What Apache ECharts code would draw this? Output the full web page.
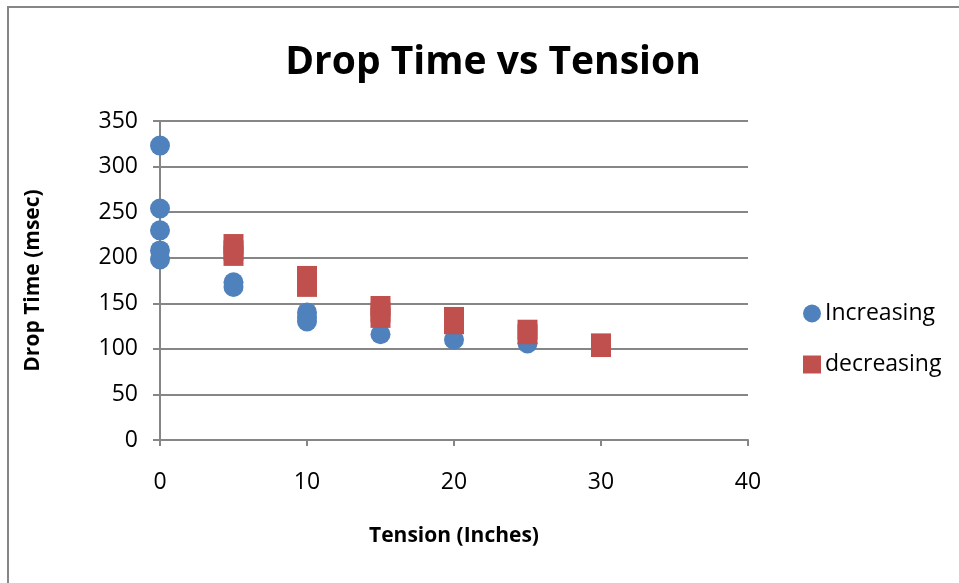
<!DOCTYPE html>
<html>
<head>
<meta charset="utf-8">
<script src="https://cdn.jsdelivr.net/npm/echarts@6/dist/echarts.min.js"></script>
<style>
  html, body { margin: 0; padding: 0; background: #ffffff; }
  #chart { width: 959px; height: 583px; }
</style>
</head>
<body>
<div id="chart"></div>
<script>
// Drop time measurements (msec) at each tension setting (inches)
const increasingTension = [0, 0, 0, 0, 0, 5, 5, 10, 10, 10, 15, 20, 25, 30];
const increasingTime    = [323, 254, 230, 208, 198, 173, 168, 140, 135, 130, 116, 110, 106, 103];

const decreasingTension = [5, 5, 5, 10, 10, 10, 15, 15, 15, 20, 20, 25, 25, 30, 30];
const decreasingTime    = [215, 208, 202, 180, 175, 168, 147, 140, 134, 135, 127, 121, 116, 106, 102];

const xTicks = { min: 0, max: 40, step: 10 };
const yTicks = { min: 0, max: 350, step: 50 };

const pairs = (xs, ys) => xs.map((x, i) => [x, ys[i]]);

const FONT = '"Open Sans", "Liberation Sans", sans-serif';
const GRAY = '#868686';

const chart = echarts.init(document.getElementById('chart'), null, { renderer: 'canvas' });

chart.setOption({
  backgroundColor: '#ffffff',
  animation: false,
  graphic: [{
    type: 'rect',
    shape: { x: 8, y: 7, width: 1000, height: 1000 },
    style: { fill: 'none', stroke: GRAY, lineWidth: 2 },
    silent: true
  }],
  title: {
    text: 'Drop Time vs Tension',
    left: 488,
    top: 38,
    textAlign: 'center',
    textStyle: { fontFamily: FONT, fontWeight: 'bold', fontSize: 39, color: '#000000' }
  },
  grid: { left: 160, top: 121, width: 588, height: 319, containLabel: false },
  legend: {
    orient: 'vertical',
    left: 803,
    top: 302,
    itemWidth: 18,
    itemHeight: 18,
    itemGap: 28,
    padding: 0,
    textStyle: { fontFamily: FONT, fontSize: 23, color: '#000000', padding: [0, 0, 0, -1] },
    data: ['Increasing', 'decreasing']
  },
  xAxis: {
    type: 'value',
    min: xTicks.min,
    max: xTicks.max,
    interval: xTicks.step,
    name: 'Tension (Inches)',
    nameLocation: 'middle',
    nameGap: 86,
    nameTextStyle: { fontFamily: FONT, fontWeight: 'bold', fontSize: 21, color: '#000000' },
    axisLine: { show: true, lineStyle: { color: GRAY, width: 2 } },
    axisTick: { show: true, inside: false, length: 6, lineStyle: { color: GRAY, width: 2 } },
    axisLabel: { margin: 31, fontFamily: FONT, fontSize: 23, color: '#000000' },
    splitLine: { show: false }
  },
  yAxis: {
    type: 'value',
    min: yTicks.min,
    max: yTicks.max,
    interval: yTicks.step,
    name: 'Drop Time (msec)',
    nameLocation: 'middle',
    nameGap: 116,
    nameRotate: 90,
    nameTextStyle: { fontFamily: FONT, fontWeight: 'bold', fontSize: 21, color: '#000000' },
    axisLine: { show: true, lineStyle: { color: GRAY, width: 2 } },
    axisTick: { show: true, inside: false, length: 7, lineStyle: { color: GRAY, width: 2 } },
    axisLabel: { margin: 22, fontFamily: FONT, fontSize: 23, color: '#000000' },
    splitLine: { show: true, lineStyle: { color: GRAY, width: 2 } }
  },
  series: [
    {
      name: 'Increasing',
      type: 'scatter',
      symbol: 'circle',
      symbolSize: 20,
      itemStyle: { color: '#4F81BD', opacity: 1 },
      data: pairs(increasingTension, increasingTime),
      z: 2
    },
    {
      name: 'decreasing',
      type: 'scatter',
      symbol: 'rect',
      symbolSize: 20,
      itemStyle: { color: '#C0504D', opacity: 1 },
      data: pairs(decreasingTension, decreasingTime),
      z: 3
    }
  ]
});
</script>
</body>
</html>
